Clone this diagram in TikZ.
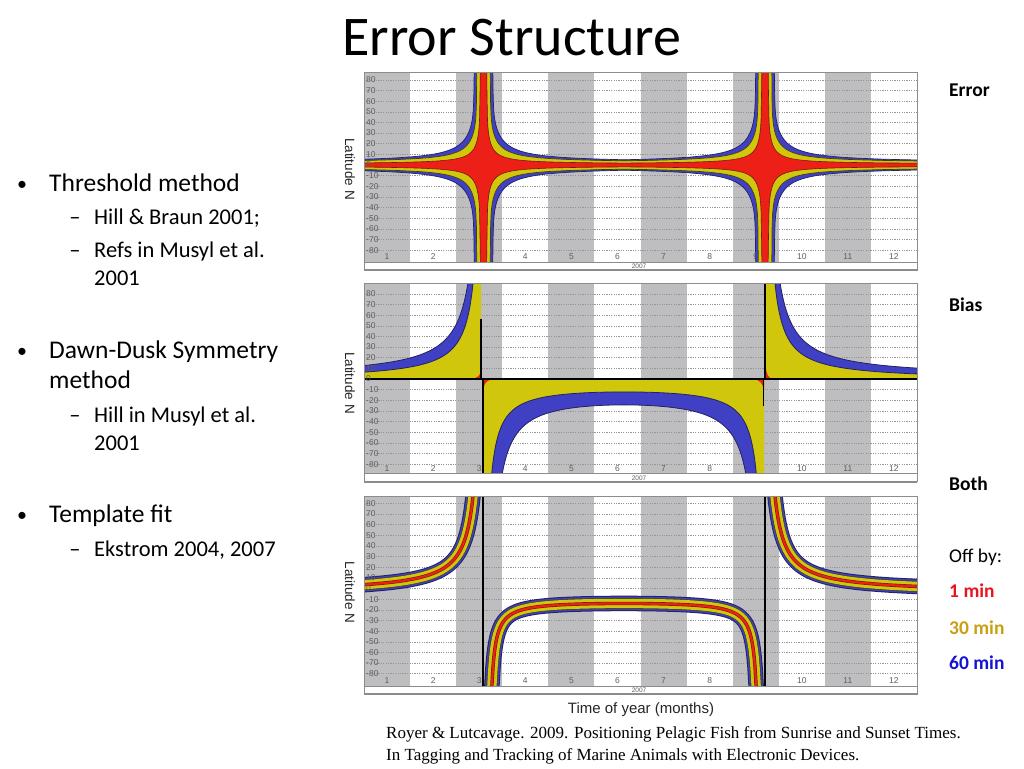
\documentclass[tikz,border=0pt]{standalone}
\usepackage{fontspec}
\setmainfont{Carlito}
\newfontfamily\arialf{Liberation Sans}
\newfontfamily\timesf{Liberation Serif}
\definecolor{bandgray}{RGB}{190,190,192}
\definecolor{gridc}{RGB}{150,150,150}
\definecolor{blueb}{RGB}{64,64,196}
\definecolor{bluedk}{RGB}{35,35,95}
\definecolor{yellowb}{RGB}{208,198,12}
\definecolor{yeldk}{RGB}{70,60,20}
\definecolor{redb}{RGB}{236,32,22}
\definecolor{reddk}{RGB}{120,25,15}
\definecolor{labred}{RGB}{232,20,30}
\definecolor{labgold}{RGB}{200,160,20}
\definecolor{labblue}{RGB}{20,20,210}
\definecolor{framec}{RGB}{140,140,140}
\definecolor{txtgray}{RGB}{95,95,95}
\tikzset{
  gridln/.style={gridc, line width=0.45, dash pattern=on 1.2pt off 1.2pt},
  monlab/.style={font=\arialf\fontsize{8.5}{9}\selectfont, text=txtgray, inner sep=0},
  latlab/.style={font=\arialf\fontsize{8.5}{9}\selectfont, text=txtgray, inner sep=0, anchor=west},
  yearlab/.style={font=\arialf\fontsize{6.5}{7}\selectfont, text=txtgray, inner sep=0},
  latN/.style={font=\arialf\fontsize{13.5}{15}\selectfont, text=black!85, inner sep=0, rotate=-90},
  bul/.style={font=\fontsize{25.5}{30}\selectfont, anchor=base west, inner sep=0},
  buldot/.style={font=\fontsize{20}{24}\selectfont, anchor=base, inner sep=0},
  subl/.style={font=\fontsize{22.5}{27}\selectfont, anchor=base west, inner sep=0},
  subdash/.style={font=\fontsize{22.5}{27}\selectfont, anchor=base, inner sep=0},
  rlab/.style={font=\bfseries\fontsize{19.5}{23}\selectfont, anchor=base west, inner sep=0},
  rlabn/.style={font=\fontsize{19.5}{23}\selectfont, anchor=base west, inner sep=0},
  bluefill/.style={fill=blueb, draw=bluedk, line width=0.8},
  ribbon/.style={line join=round, draw=redb, line width=2.2,
    preaction={draw=bluedk, line width=15.5},
    preaction={draw=blueb, line width=13.5},
    preaction={draw=yeldk, line width=10.6},
    preaction={draw=yellowb, line width=9.4},
    preaction={draw=reddk, line width=3.4}},
  blackln/.style={black, line width=1.2},
}
\newcommand\plotbase[3]{%
  \fill[white] (364,#1) rectangle (917,#1+198);
  \foreach \m in {1,3,...,11}{\fill[bandgray] ({364+46.0833*(\m-1)},#1) rectangle ({364+46.0833*\m},#1+190);}
  \foreach \k in {-8,...,8}{\draw[gridln] (364,{#2-10.65*\k}) -- (917,{#2-10.65*\k});}
  \foreach \m in {1,...,12}{\node[monlab] (mon#3m\m) at ({364+46.0833*(\m-0.5)},#1+185) {\m};}
  \node[yearlab] (yr#3) at (639,#1+194.5) {2007};
  \node[latN] (latN#3) at (350,#2+4) {Latitude N};
}
\newcommand\latlabels[2]{%
  \foreach \k [evaluate=\k as \lab using int(10*\k), evaluate=\k as \idx using int(\k+8)] in {-8,...,8}{\node[latlab] (lat#2n\idx) at (366,{#1-10.65*\k}) {\lab};}
}
\newcommand\plotframe[1]{%
  \draw[framec, line width=0.8] (364,#1) rectangle (917,#1+198);
  \draw[framec, line width=0.8] (364,#1+190) -- (917,#1+190);
  \draw[framec, line width=2] (364,#1+198) -- (917,#1+198);
}
\begin{document}
\begin{tikzpicture}[x=1pt,y=-1pt,
  declare function={
    hw(\pg,\pa,\pb,\ps)=min(140,\pa+\pb/max(\pg-\ps,1));
    hx(\pg,\pa,\pb,\pc,\pd)=min(140,\pa+\pb/max(\pg,1)+\pc/max(\pg-\pd,0.1));
    hs(\px,\pa,\pb,\ps)=min(140,\pa+\pb/max(\px-483-\ps,1)+\pb/max(765-\px-\ps,1));
    dd(\px)=min(abs(\px-483.5),abs(\px-765));
  }]
\useasboundingbox[fill=white] (0,0) rectangle (1024,768);

% ---------- title and text ----------
\node[font=\fontsize{56}{60}\selectfont, anchor=base, inner sep=0] (title) at (512,56) {Error Structure};

\node[buldot] (b1) at (22,190) {•};
\node[bul] (t1) at (49,191) {Threshold method};
\node[subdash] (d1) at (75,224) {–};
\node[subl] (s1) at (94,224) {Hill \& Braun 2001;};
\node[subdash] (d2) at (75,257) {–};
\node[subl] (s2a) at (94,257) {Refs in Musyl et al.};
\node[subl] (s2b) at (94,285) {2001};
\node[buldot] (b2) at (22,357) {•};
\node[bul] (t2a) at (49,358) {Dawn-Dusk Symmetry};
\node[bul] (t2b) at (49,388) {method};
\node[subdash] (d3) at (75,422) {–};
\node[subl] (s3a) at (94,422) {Hill in Musyl et al.};
\node[subl] (s3b) at (94,450) {2001};
\node[buldot] (b3) at (22,521) {•};
\node[bul] (t3) at (49,522) {Template fit};
\node[subdash] (d4) at (75,556) {–};
\node[subl] (s4) at (94,556) {Ekstrom 2004, 2007};

\node[rlab] (rerr) at (949,96) {Error};
\node[rlab] (rbias) at (949,311) {Bias};
\node[rlab] (rboth) at (949,490) {Both};
\node[rlabn] (roff) at (949,562) {Off by:};
\node[rlab, text=labred] (r1) at (949,597) {1 min};
\node[rlab, text=labgold] (r30) at (949,634) {30 min};
\node[rlab, text=labblue] (r60) at (949,669) {60 min};

\node[font=\arialf\fontsize{15}{17}\selectfont, text=black!85, anchor=base, inner sep=0] (xlab) at (641,713) {Time of year (months)};
\node[font=\timesf\fontsize{17}{20}\selectfont, anchor=base west, inner sep=0] (cit1) at (386,738.5) {Royer \& Lutcavage. 2009. Positioning Pelagic Fish from Sunrise and Sunset Times.};
\node[font=\timesf\fontsize{17}{20}\selectfont, anchor=base west, inner sep=0] (cit2) at (386,760.5) {In Tagging and Tracking of Marine Animals with Electronic Devices.};

% ---------- plot 1 : Error ----------
\plotbase{72}{165}{A}
\begin{scope}
\clip (364,72) rectangle (917,262);
\fill[blueb, draw=bluedk, line width=0.7] plot[domain=355:925,samples=1141] (\x,{165-hx(dd(\x),2.2,414,15,9)}) -- plot[domain=925:355,samples=1141] (\x,{165+hx(dd(\x),2.2,414,15,9)}) -- cycle;
\fill[yellowb, draw=yeldk, line width=0.7] plot[domain=355:925,samples=1141] (\x,{165-hx(dd(\x),2.2,270,12,6.5)}) -- plot[domain=925:355,samples=1141] (\x,{165+hx(dd(\x),2.2,270,12,6.5)}) -- cycle;
\fill[redb, draw=reddk, line width=0.6] plot[domain=355:925,samples=1141] (\x,{165-hx(dd(\x),0.87,139,6,3.3)}) -- plot[domain=925:355,samples=1141] (\x,{165+hx(dd(\x),0.87,139,6,3.3)}) -- cycle;
\end{scope}
\latlabels{165}{A}
\plotframe{72}

% ---------- plot 2 : Bias ----------
\plotbase{283.5}{379}{B}
\begin{scope}
\clip (364,283.5) rectangle (917,473.5);
\fill[yellowb] (355,379) -- (481,379) -- plot[domain=481:355,samples=127] (\x,{379-hw(483-\x,-1.3,968,0)}) -- cycle;
\fill[yellowb] (484,379) -- (764,379) -- plot[domain=764:484,samples=281] (\x,{379+hs(\x,1.8,783,0)}) -- cycle;
\fill[yellowb] (766,379) -- (925,379) -- plot[domain=925:766,samples=160] (\x,{379-hw(\x-765,-1.3,968,0)}) -- cycle;
\fill[bluefill] plot[domain=355:481,samples=127] (\x,{379-hw(483-\x,1.5,1426,0)}) -- plot[domain=481:355,samples=127] (\x,{379-hw(483-\x,-1.3,968,0)}) -- cycle;
\fill[bluefill] plot[domain=484:764,samples=281] (\x,{379+hs(\x,7.6,1252,4)}) -- plot[domain=764:484,samples=281] (\x,{379+hs(\x,1.8,783,0)}) -- cycle;
\fill[bluefill] plot[domain=766:925,samples=160] (\x,{379-hw(\x-765,1.5,1426,0)}) -- plot[domain=925:766,samples=160] (\x,{379-hw(\x-765,-1.3,968,0)}) -- cycle;
\fill[redb] (481,379) -- (481,371) .. controls (480,376) and (477,378.3) .. (471,379) -- cycle;
\fill[redb] (483.5,379) -- (483.5,388) .. controls (484.5,383) and (487,380.2) .. (493,379) -- cycle;
\fill[redb] (764,379) -- (764,390) .. controls (763,384) and (760,380.2) .. (754,379) -- cycle;
\fill[redb] (765.5,379) -- (765.5,367) .. controls (766.5,374) and (768.5,378) .. (772,379) -- cycle;
\coordinate (zl) at (364,379);
\coordinate (zr) at (917,379);
\draw[blackln] (zl) -- (zr);
\draw[blackln] (481,319) -- (481,379);
\draw[blackln] (483,379) -- (483,473.5);
\draw[blackln] (765,283.5) -- (765,379);
\draw[blackln] (763.8,379) -- (763.8,406);
\end{scope}
\latlabels{379}{B}
\plotframe{283.5}

% ---------- plot 3 : Both ----------
\plotbase{496}{588.5}{C}
\begin{scope}
\clip (364,496) rectangle (917,686);
\draw[ribbon] plot[domain=350:482,samples=133] (\x,{588.5-hw(483-\x,-4.3,968,0)});
\draw[ribbon] plot[domain=484:764,samples=281] (\x,{588.5+hs(\x,10,336,5)});
\draw[ribbon] plot[domain=766:930,samples=165] (\x,{588.5-hw(\x-765,-4.3,968,0)});
\draw[blackln, line width=1.4] (483,496) -- (483,686);
\draw[blackln, line width=1.4] (765,496) -- (765,686);
\end{scope}
\latlabels{588.5}{C}
\plotframe{496}
\end{tikzpicture}
\end{document}
